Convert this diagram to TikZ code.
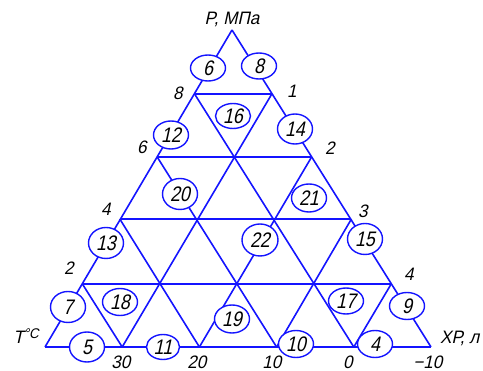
\documentclass[tikz,border=0pt]{standalone}
\usepackage{fontspec}
\newfontfamily\gost[FakeSlant=0.22,FakeStretch=0.85]{Liberation Sans}
\newfontfamily\gostlbl[FakeSlant=0.22,FakeStretch=0.95]{Liberation Sans}
\usetikzlibrary{shapes.geometric}
\definecolor{gridblue}{rgb}{0.08,0.08,1}
\tikzset{
  grid/.style={draw=gridblue, line width=1.6pt},
  numcirc/.style={ellipse, draw=gridblue, line width=1.4pt, fill=white,
    minimum width=35pt, minimum height=28pt, inner sep=0pt,
    font=\gost\fontsize{21}{23}\selectfont},
  lbl/.style={inner sep=0pt, font=\gostlbl\fontsize{18}{20}\selectfont}
}
\begin{document}
\begin{tikzpicture}[x=1pt,y=-1pt]
\useasboundingbox (0,0) rectangle (483,371);
% grid vertices
\foreach \r/\vy in {0/30,1/94,2/157,3/219,4/284,5/347}{
  \foreach \k in {0,...,\r}{
    \pgfmathsetmacro\vx{232+1.2*\r+(\k-\r/2)*77.2}
    \coordinate (v-\r-\k) at (\vx,\vy);
  }
}
\foreach \r in {1,...,5} \draw[grid] (v-\r-0) -- (v-\r-\r);
\foreach \k in {0,...,4} \draw[grid] (v-\k-\k) -- (v-5-\k);
\foreach \m in {0,...,4}{\pgfmathtruncatemacro\n{5-\m}\draw[grid] (v-\m-0) -- (v-5-\n);}
% numbered circles
\node[numcirc, minimum height=26pt] (c6)  at (208,68)  {6};
\node[numcirc, minimum height=26pt] (c8)  at (259,66)  {8};
\node[numcirc, minimum height=25pt] (c16) at (233,116) {16};
\node[numcirc] (c12) at (171,135) {12};
\node[numcirc, minimum height=30pt] (c14) at (295,129) {14};
\node[numcirc, minimum height=31pt] (c20) at (180,194) {20};
\node[numcirc] (c21) at (309,198) {21};
\node[numcirc, minimum height=31pt] (c13) at (106,243) {13};
\node[numcirc, minimum width=36pt, minimum height=32pt] (c22) at (260,240) {22};
\node[numcirc, minimum height=31pt] (c15) at (365,239) {15};
\node[numcirc, minimum height=31pt] (c7)  at (68,307)  {7};
\node[numcirc, minimum height=27pt] (c18) at (120,302) {18};
\node[numcirc] (c19) at (232,319) {19};
\node[numcirc, minimum height=26pt] (c17) at (346,301) {17};
\node[numcirc, minimum height=27pt] (c9)  at (407,306) {9};
\node[numcirc, minimum height=30pt] (c5)  at (87,347)  {5};
\node[numcirc, minimum width=33pt, minimum height=25pt] (c11) at (163,347) {11};
\node[numcirc, minimum height=27pt] (c10) at (296,344) {10};
\node[numcirc, minimum height=27pt] (c4)  at (375,344) {4};
% axis labels
\node[lbl] (tp) at (232,19) {P, МПа};
\node[lbl] (l8) at (178,93) {8};
\node[lbl] (l6) at (142,147) {6};
\node[lbl] (l4) at (106,209) {4};
\node[lbl] (l2) at (69,268) {2};
\node[lbl] (r1) at (292,91) {1};
\node[lbl] (r2) at (330,148) {2};
\node[lbl] (r3) at (363,211) {3};
\node[lbl] (r4) at (409,274) {4};
\node[lbl] (tt) at (26,336) {T\raisebox{0.45ex}{\fontsize{14}{15}\selectfont °C}};
\node[lbl] (b30) at (121,362) {30};
\node[lbl] (b20) at (197,362) {20};
\node[lbl] (b10) at (272,362) {10};
\node[lbl] (b0)  at (348,362) {0};
\node[lbl] (bm10) at (428,362) {−10};
\node[lbl, anchor=west] (xr) at (440,338) {ХР, л};
\end{tikzpicture}
\end{document}
